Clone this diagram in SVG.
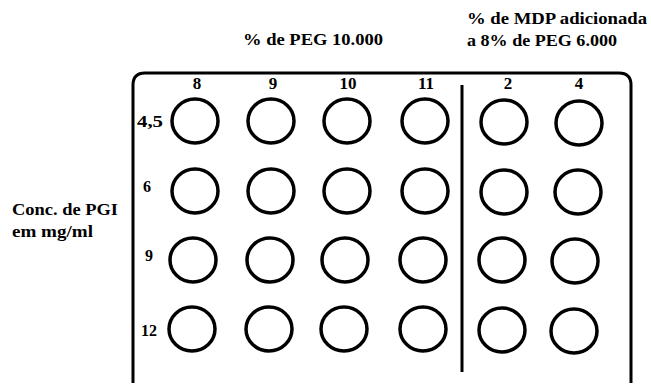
<svg xmlns="http://www.w3.org/2000/svg" width="651" height="384" viewBox="0 0 651 384">
<style>
text{font-family:"Liberation Serif","Times New Roman","DejaVu Serif",serif;font-weight:bold;fill:#000}
.h{font-size:17px}
.n{font-size:17px;text-anchor:middle}
.r{font-size:16px}
.w{fill:none;stroke:#000;stroke-width:3.5}
.f{fill:none;stroke:#000;stroke-width:3}
</style>
<rect width="651" height="384" fill="#fff"/>
<g id="titles">
<text class="h" x="243" y="45" textLength="140" lengthAdjust="spacingAndGlyphs">% de PEG 10.000</text>
<text class="h" x="467" y="24" textLength="180" lengthAdjust="spacingAndGlyphs">% de MDP adicionada</text>
<text class="h" x="467" y="46" textLength="150" lengthAdjust="spacingAndGlyphs">a 8% de PEG 6.000</text>
<text class="h" x="12" y="215" textLength="106" lengthAdjust="spacingAndGlyphs">Conc. de PGI</text>
<text class="h" x="12" y="237" textLength="81" lengthAdjust="spacingAndGlyphs">em mg/ml</text>
</g>
<g id="frame">
<path class="f" d="M133,383 V85 Q133,73 145,73 H619 Q631,73 631,85 V383"/>
<line class="f" x1="462" y1="85" x2="462" y2="372" stroke-width="2.5"/>
</g>
<g id="col-labels">
<text class="n" x="197" y="89">8</text>
<text class="n" x="273" y="89">9</text>
<text class="n" x="348" y="89">10</text>
<text class="n" x="426" y="89">11</text>
<text class="n" x="508" y="89">2</text>
<text class="n" x="579" y="89">4</text>
</g>
<g id="row-labels">
<text class="r" x="137" y="127" textLength="26" lengthAdjust="spacingAndGlyphs">4,5</text>
<text class="r" x="143" y="192">6</text>
<text class="r" x="145" y="261">9</text>
<text class="r" x="141" y="336">12</text>
</g>
<g id="wells">
<g id="w-1-1"><ellipse class="w" cx="195" cy="121" rx="23" ry="22"/></g>
<g id="w-1-2"><ellipse class="w" cx="271" cy="121" rx="23" ry="22"/></g>
<g id="w-1-3"><ellipse class="w" cx="347" cy="121" rx="23" ry="22"/></g>
<g id="w-1-4"><ellipse class="w" cx="425" cy="121" rx="23" ry="22"/></g>
<g id="w-1-5"><ellipse class="w" cx="504" cy="122" rx="23" ry="22"/></g>
<g id="w-1-6"><ellipse class="w" cx="579" cy="123" rx="23" ry="22"/></g>
<g id="w-2-1"><ellipse class="w" cx="195" cy="191" rx="23" ry="22"/></g>
<g id="w-2-2"><ellipse class="w" cx="271" cy="191" rx="23" ry="22"/></g>
<g id="w-2-3"><ellipse class="w" cx="347" cy="191" rx="23" ry="22"/></g>
<g id="w-2-4"><ellipse class="w" cx="425" cy="191" rx="23" ry="22"/></g>
<g id="w-2-5"><ellipse class="w" cx="504" cy="192" rx="23" ry="22"/></g>
<g id="w-2-6"><ellipse class="w" cx="578" cy="192" rx="23" ry="22"/></g>
<g id="w-3-1"><ellipse class="w" cx="193" cy="260" rx="23" ry="22"/></g>
<g id="w-3-2"><ellipse class="w" cx="270" cy="260" rx="23" ry="22"/></g>
<g id="w-3-3"><ellipse class="w" cx="345" cy="260" rx="23" ry="22"/></g>
<g id="w-3-4"><ellipse class="w" cx="423" cy="260" rx="23" ry="22"/></g>
<g id="w-3-5"><ellipse class="w" cx="502" cy="260" rx="23" ry="22"/></g>
<g id="w-3-6"><ellipse class="w" cx="575" cy="261" rx="23" ry="22"/></g>
<g id="w-4-1"><ellipse class="w" cx="192" cy="329" rx="23" ry="22"/></g>
<g id="w-4-2"><ellipse class="w" cx="269" cy="329" rx="23" ry="22"/></g>
<g id="w-4-3"><ellipse class="w" cx="344" cy="329" rx="23" ry="22"/></g>
<g id="w-4-4"><ellipse class="w" cx="423" cy="329" rx="23" ry="22"/></g>
<g id="w-4-5"><ellipse class="w" cx="502" cy="330" rx="23" ry="22"/></g>
<g id="w-4-6"><ellipse class="w" cx="574" cy="331" rx="23" ry="22"/></g>
</g>
</svg>
